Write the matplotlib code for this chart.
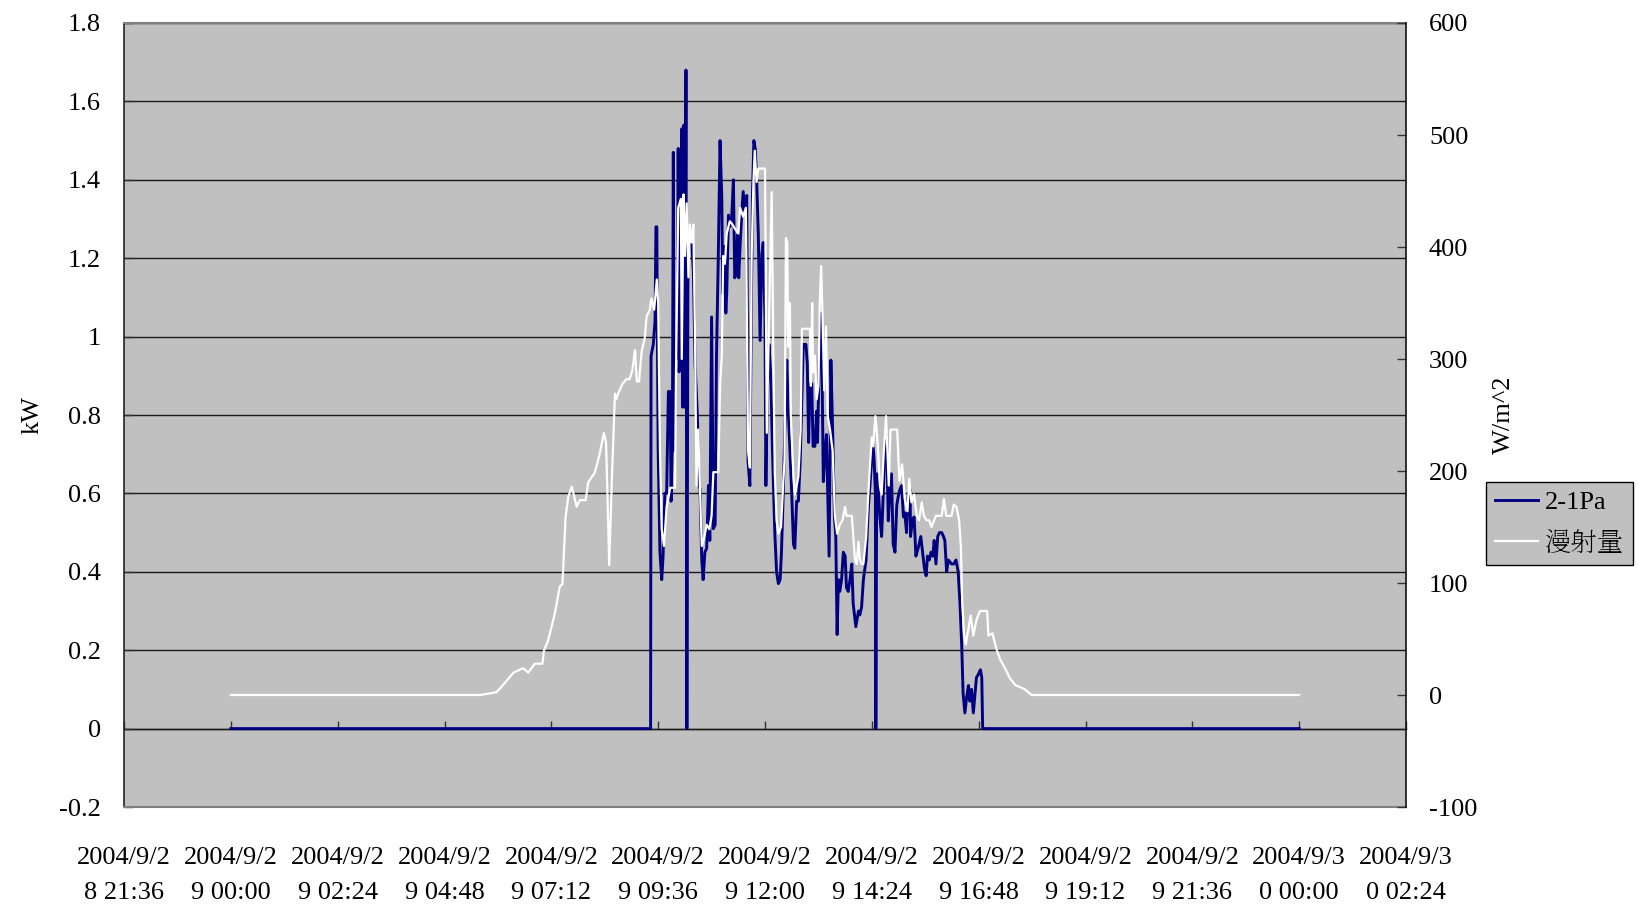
import matplotlib
matplotlib.use("Agg")
import matplotlib.pyplot as plt
from matplotlib.lines import Line2D

# ---- data: 2004/9/29, hours after midnight ----
pv_hours = [0.0, 9.43, 9.44, 9.49, 9.53, 9.55, 9.57, 9.58, 9.60, 9.64, 9.68, 9.71, 9.75, 9.79,
            9.83, 9.87, 9.89, 9.92, 9.94, 9.96, 9.99, 10.03, 10.05, 10.07, 10.11, 10.13, 10.15,
            10.18, 10.20, 10.225, 10.245, 10.27, 10.30, 10.35, 10.39, 10.43, 10.48, 10.52, 10.54,
            10.58, 10.61, 10.65, 10.69, 10.73, 10.76, 10.80, 10.84, 10.88, 10.91, 10.95, 10.99,
            11.03, 11.05, 11.08, 11.12, 11.14, 11.18, 11.21, 11.25, 11.29, 11.32, 11.35, 11.38,
            11.41, 11.44, 11.48, 11.51, 11.55, 11.59, 11.62, 11.66, 11.69, 11.72, 11.75, 11.78,
            11.81, 11.85, 11.89, 11.93, 11.96, 12.00, 12.02, 12.05, 12.09, 12.13, 12.17, 12.22,
            12.26, 12.30, 12.34, 12.37, 12.41, 12.45, 12.49, 12.52, 12.56, 12.60, 12.64, 12.67,
            12.71, 12.75, 12.79, 12.82, 12.86, 12.92, 12.95, 12.98, 13.01, 13.05, 13.08, 13.12,
            13.16, 13.18, 13.22, 13.25, 13.28, 13.31, 13.35, 13.38, 13.42, 13.44, 13.48, 13.52,
            13.56, 13.59, 13.62, 13.65, 13.68, 13.72, 13.76, 13.80, 13.83, 13.87, 13.91, 13.95,
            13.98, 14.04, 14.10, 14.13, 14.17, 14.21, 14.27, 14.32, 14.37, 14.42, 14.45, 14.48,
            14.49, 14.51, 14.55, 14.58, 14.62, 14.66, 14.69, 14.73, 14.77, 14.81, 14.84, 14.88,
            14.92, 14.96, 14.99, 15.03, 15.07, 15.11, 15.14, 15.18, 15.22, 15.26, 15.27, 15.31,
            15.35, 15.39, 15.44, 15.50, 15.54, 15.58, 15.62, 15.65, 15.69, 15.73, 15.77, 15.80,
            15.84, 15.88, 15.92, 15.97, 16.01, 16.04, 16.08, 16.12, 16.19, 16.24, 16.29, 16.34,
            16.38, 16.42, 16.45, 16.49, 16.53, 16.57, 16.60, 16.64, 16.68, 16.72, 16.75, 16.80,
            16.84, 16.87, 16.89, 24.0]
pv_kw = [0.0, 0.0, 0.95, 0.98, 1.04, 1.28, 1.28, 1.04, 0.71, 0.45, 0.38, 0.44, 0.60, 0.60,
         0.86, 0.86, 0.58, 0.74, 1.47, 0.71, 0.94, 0.95, 1.48, 0.91, 0.97, 1.53, 0.82,
         1.54, 0.82, 1.68, 0.0, 1.26, 1.25, 1.24, 1.17, 0.93, 0.80, 0.62, 0.61,
         0.43, 0.38, 0.45, 0.46, 0.62, 0.48, 1.05, 0.51, 0.52, 0.95, 1.20, 1.50,
         1.35, 1.11, 1.23, 1.06, 1.11, 1.31, 1.28, 1.30, 1.40, 1.15, 1.16, 1.26,
         1.15, 1.23, 1.32, 1.37, 1.32, 1.36, 0.68, 0.62, 1.04, 1.37, 1.50, 1.48,
         1.41, 1.26, 0.99, 1.21, 1.24, 1.04, 0.62, 0.85, 0.98, 0.90, 0.70, 0.50,
         0.40, 0.37, 0.38, 0.45, 0.60, 0.78, 0.94, 0.82, 0.71, 0.60, 0.47, 0.46,
         0.58, 0.58, 0.68, 0.81, 0.98, 0.98, 0.93, 0.73, 0.88, 0.88, 0.72, 0.72,
         0.81, 0.73, 0.95, 1.06, 0.93, 0.63, 0.71, 0.75, 0.55, 0.44, 0.94, 0.76,
         0.54, 0.49, 0.24, 0.38, 0.35, 0.38, 0.45, 0.44, 0.36, 0.35, 0.38, 0.42,
         0.32, 0.26, 0.30, 0.29, 0.31, 0.38, 0.43, 0.56, 0.64, 0.73, 0.69, 0.60,
         0.0, 0.65, 0.60, 0.54, 0.49, 0.61, 0.71, 0.75, 0.53, 0.62, 0.65, 0.47,
         0.45, 0.57, 0.59, 0.61, 0.62, 0.54, 0.55, 0.50, 0.60, 0.61, 0.49, 0.53,
         0.54, 0.44, 0.46, 0.49, 0.45, 0.41, 0.39, 0.44, 0.43, 0.45, 0.44, 0.48,
         0.42, 0.49, 0.50, 0.50, 0.49, 0.48, 0.40, 0.43, 0.42, 0.42, 0.43, 0.40,
         0.32, 0.21, 0.09, 0.04, 0.08, 0.11, 0.07, 0.10, 0.04, 0.09, 0.13, 0.14,
         0.15, 0.13, 0.0, 0.0]

diffuse_hours = [0.0, 5.60, 5.97, 6.05, 6.35, 6.57, 6.68, 6.83, 7.00, 7.03, 7.13, 7.28, 7.39,
                 7.45, 7.48, 7.52, 7.58, 7.66, 7.77, 7.84, 7.97, 8.03, 8.08, 8.17, 8.22, 8.29,
                 8.38, 8.43, 8.46, 8.50, 8.54, 8.57, 8.61, 8.63, 8.66, 8.70, 8.80, 8.89, 8.96,
                 9.02, 9.08, 9.12, 9.17, 9.23, 9.30, 9.34, 9.41, 9.45, 9.51, 9.57, 9.60, 9.64,
                 9.68, 9.73, 9.79, 9.87, 9.98, 10.00, 10.05, 10.11, 10.13, 10.17, 10.20, 10.24,
                 10.28, 10.31, 10.35, 10.39, 10.43, 10.46, 10.50, 10.54, 10.58, 10.63, 10.69,
                 10.75, 10.80, 10.84, 10.95, 10.99, 11.03, 11.06, 11.10, 11.14, 11.21, 11.27,
                 11.33, 11.40, 11.44, 11.51, 11.57, 11.62, 11.66, 11.70, 11.74, 11.77, 11.81,
                 11.85, 12.00, 12.04, 12.15, 12.19, 12.22, 12.26, 12.30, 12.36, 12.41, 12.44,
                 12.47, 12.50, 12.52, 12.56, 12.58, 12.64, 12.67, 12.75, 12.80, 12.83, 13.01,
                 13.03, 13.06, 13.08, 13.12, 13.16, 13.20, 13.23, 13.26, 13.29, 13.33, 13.37,
                 13.41, 13.46, 13.52, 13.57, 13.62, 13.68, 13.74, 13.80, 13.83, 13.95, 14.02,
                 14.06, 14.10, 14.13, 14.17, 14.21, 14.27, 14.32, 14.36, 14.40, 14.43, 14.48,
                 14.51, 14.54, 14.58, 14.62, 14.67, 14.72, 14.75, 14.78, 14.82, 14.97, 15.02,
                 15.08, 15.14, 15.20, 15.24, 15.29, 15.35, 15.41, 15.46, 15.52, 15.57, 15.63,
                 15.69, 15.74, 15.78, 15.84, 15.97, 16.02, 16.07, 16.19, 16.24, 16.30, 16.36,
                 16.40, 16.43, 16.47, 16.51, 16.57, 16.62, 16.68, 16.75, 16.83, 16.99, 17.02,
                 17.11, 17.20, 17.28, 17.39, 17.50, 17.62, 17.73, 17.84, 17.99, 24.0]
diffuse_wm2 = [0, 0, 2.5, 6, 20, 24, 20, 28, 28, 39, 49, 73, 97,
               99, 124, 159, 177, 186, 168, 174, 174, 190, 193, 198, 205, 216,
               234, 225, 180, 116, 168, 205, 249, 269, 264, 269, 278, 282, 282,
               290, 308, 280, 280, 307, 319, 338, 344, 354, 344, 371, 350, 218,
               148, 133, 168, 185, 185, 288, 435, 443, 300, 447, 392, 439,
               373, 420, 404, 420, 315, 187, 237, 183, 133, 140, 152,
               148, 160, 199, 199, 276, 303, 392, 385, 412, 423, 420,
               416, 412, 435, 427, 435, 218, 203, 392, 458, 486, 458,
               470, 470, 234, 449, 295, 199, 156, 144, 150, 190, 210,
               408, 404, 311, 350, 249, 195, 179, 195, 237, 327, 327,
               276, 350, 288, 303, 264, 276, 350, 383, 342, 272, 329,
               249, 237, 218, 160, 144, 152, 156, 168, 160, 160, 121,
               117, 137, 121, 117, 117, 140, 179, 206, 230, 222, 249,
               237, 218, 187, 179, 218, 249, 218, 187, 237, 237, 191,
               206, 175, 164, 193, 172, 179, 160, 156, 172, 160, 156,
               156, 150, 154, 160, 160, 175, 160, 160, 170, 168, 156,
               133, 84, 55, 45, 59, 71, 53, 67, 75, 75, 53,
               55, 41, 32, 24, 15, 9, 7, 5, 0, 0]

series_names = ["2-1Pa", "漫射量"]
tick_hours = [-2.4, 0.0, 2.4, 4.8, 7.2, 9.6, 12.0, 14.4, 16.8, 19.2, 21.6, 24.0, 26.4]
tick_labels = ["2004/9/2\n8 21:36", "2004/9/2\n9 00:00", "2004/9/2\n9 02:24",
               "2004/9/2\n9 04:48", "2004/9/2\n9 07:12", "2004/9/2\n9 09:36",
               "2004/9/2\n9 12:00", "2004/9/2\n9 14:24", "2004/9/2\n9 16:48",
               "2004/9/2\n9 19:12", "2004/9/2\n9 21:36", "2004/9/3\n0 00:00",
               "2004/9/3\n0 02:24"]
kw_ticks = [-0.2, 0, 0.2, 0.4, 0.6, 0.8, 1, 1.2, 1.4, 1.6, 1.8]
kw_labels = ["-0.2", "0", "0.2", "0.4", "0.6", "0.8", "1", "1.2", "1.4", "1.6", "1.8"]
wm2_ticks = [-100, 0, 100, 200, 300, 400, 500, 600]

# ---- style ----
plt.rcParams['font.family'] = ['Liberation Serif', 'Noto Serif TC', 'Noto Sans CJK TC']
plt.rcParams['font.size'] = 19
plt.rcParams['axes.unicode_minus'] = False

W, H = 1639, 905
fig = plt.figure(figsize=(W / 100, H / 100), dpi=100)
fig.patch.set_facecolor('white')

left, right, top, bottom = 124, 1406, 23, 807
ax = fig.add_axes([left / W, 1 - bottom / H, (right - left) / W, (bottom - top) / H])
ax.set_facecolor('#C0C0C0')

ax.set_xlim(tick_hours[0], tick_hours[-1])
ax.set_ylim(-0.2, 1.8)
ax.set_yticks(kw_ticks)
ax.set_yticklabels(kw_labels)
ax.yaxis.grid(True, color='#1a1a1a', linewidth=1.0)
ax.set_axisbelow(True)

ax.set_xticks(tick_hours)
ax.set_xticklabels(tick_labels, linespacing=1.76)
ax.tick_params(axis='x', length=0, pad=28.5)
ax.tick_params(axis='y', direction='in', length=6.5, width=1, color='#333333', pad=16.5)

for side in ('top', 'bottom'):
    ax.spines[side].set_color('#808080')
    ax.spines[side].set_linewidth(1.5)
ax.spines['left'].set_color('#222222')
ax.spines['left'].set_linewidth(1.2)
ax.spines['right'].set_visible(False)

# category axis crossing at 0 kW, with its inward tick marks
sec = ax.secondary_xaxis(0.1)
sec.set_xticks(tick_hours)
sec.tick_params(axis='x', direction='in', length=6, width=1, color='#333333',
                labelbottom=False)
sec.spines['bottom'].set_color('#111111')
sec.spines['bottom'].set_linewidth(1.0)

ln1, = ax.plot(pv_hours, pv_kw, color='#000080', linewidth=2.1, solid_joinstyle='round',
               zorder=3)

ax.set_ylabel('kW')
ax.yaxis.set_label_coords((44 - left) / (right - left), 0.5)

ax2 = ax.twinx()
ax2.set_ylim(-100, 600)
ax2.set_yticks(wm2_ticks)
ax2.tick_params(axis='y', direction='in', length=6.5, width=1, color='#333333', pad=16.5)
for side in ('top', 'bottom', 'left'):
    ax2.spines[side].set_visible(False)
ax2.spines['right'].set_color('#111111')
ax2.spines['right'].set_linewidth(1.2)
ln2, = ax2.plot(diffuse_hours, diffuse_wm2, color='white', linewidth=1.6,
                solid_joinstyle='round', zorder=3)
ax2.set_ylabel('W/m^2')
ax2.yaxis.set_label_coords((1493 - left) / (right - left), 0.5)

handles = [Line2D([], [], color='#000080', linewidth=2.1),
           Line2D([], [], color='white', linewidth=1.6)]
leg = fig.legend(handles, series_names, loc='upper left',
                 bbox_to_anchor=(1486 / W, 1 - 482 / H), borderaxespad=0,
                 frameon=True, fancybox=False, facecolor='#C0C0C0', edgecolor='black',
                 framealpha=1, borderpad=0.34, handlelength=1.63, handletextpad=0.27,
                 labelspacing=0.65)
leg.get_frame().set_linewidth(1.0)

fig.savefig('out.png', dpi=100)
